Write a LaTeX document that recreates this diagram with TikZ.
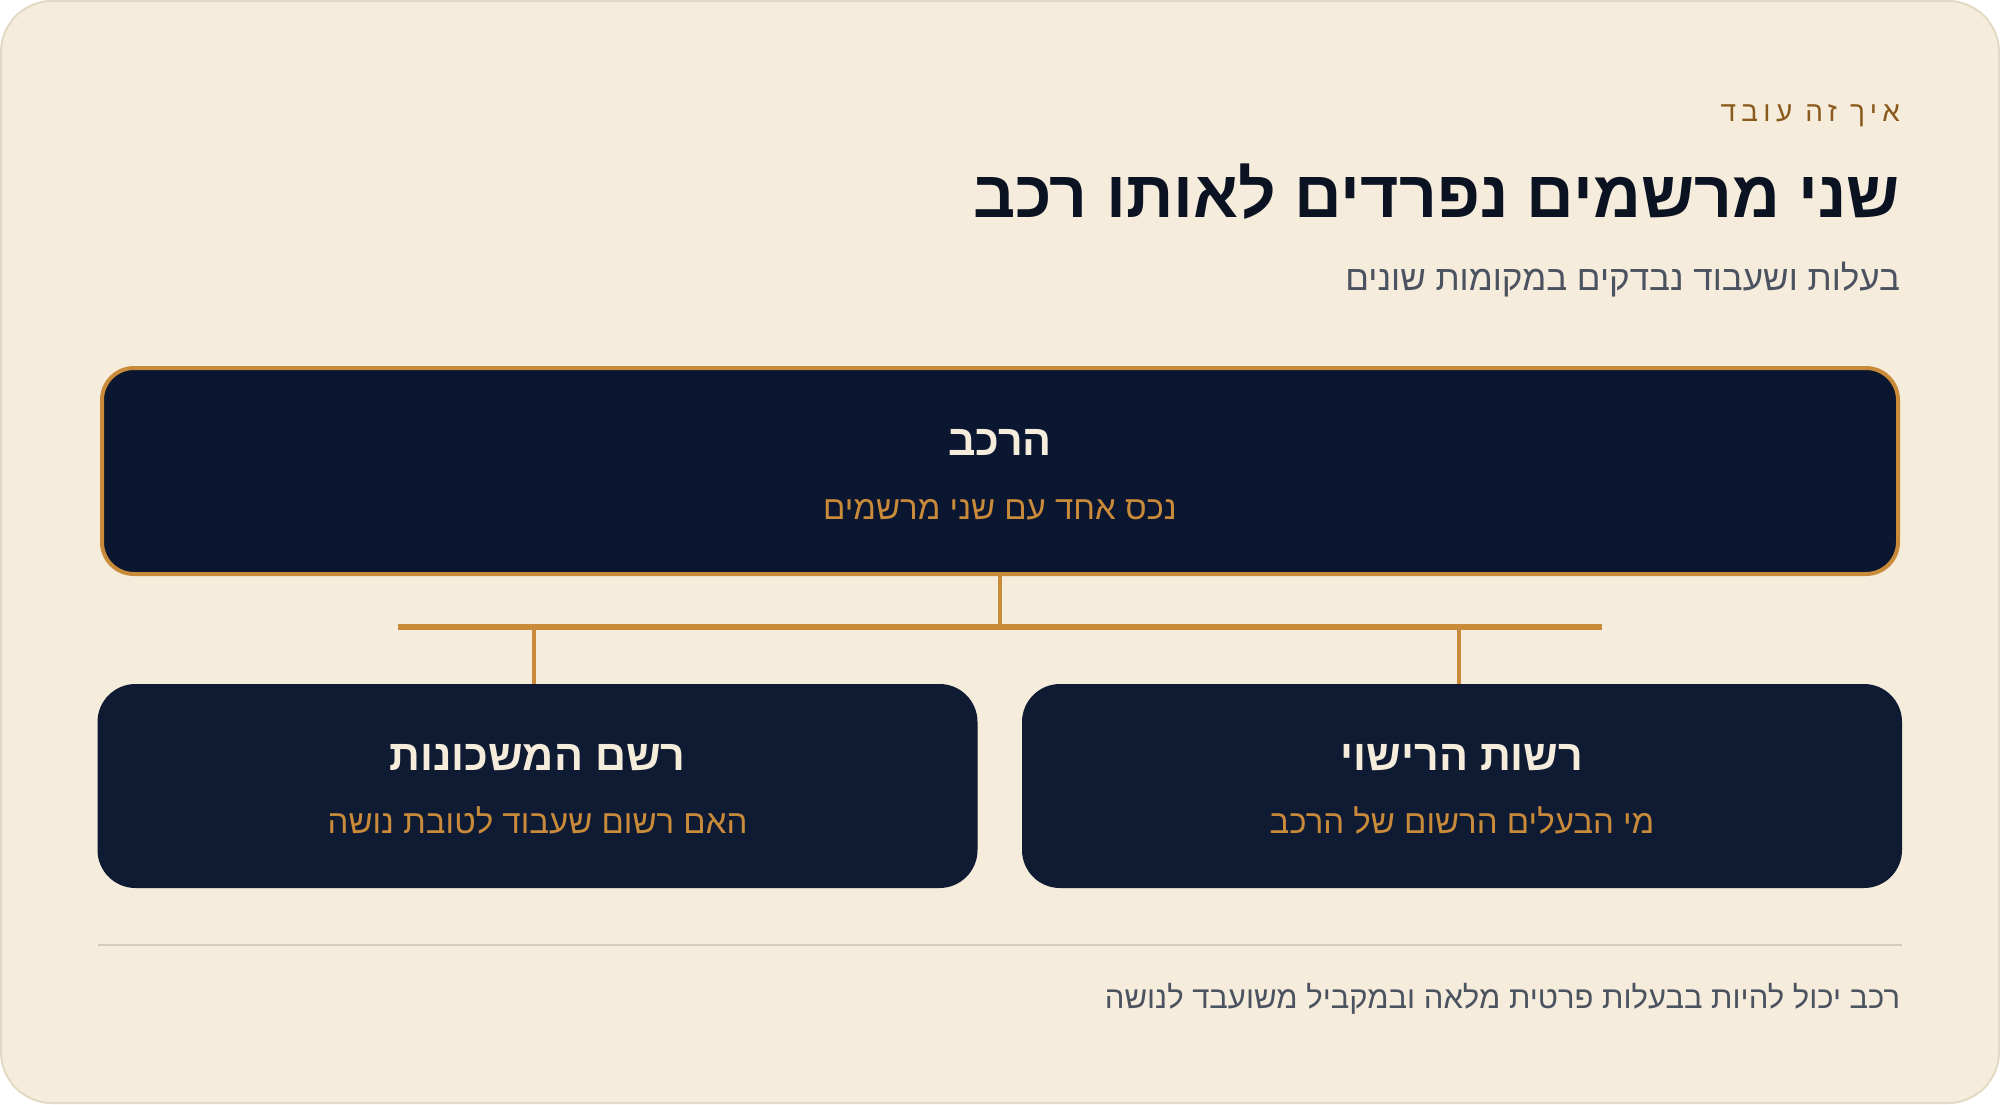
\documentclass[tikz,border=0pt]{standalone}
\usepackage{fontspec}
\setmainfont{Liberation Sans}
\newfontfamily\heb[Script=Hebrew]{Liberation Sans}
\TeXXeTstate=1
\definecolor{bgc}{HTML}{F5ECDC}
\definecolor{cardline}{HTML}{E4D9C6}
\definecolor{navytop}{HTML}{0B1631}
\definecolor{navybox}{HTML}{0F1B33}
\definecolor{gold}{HTML}{C98B3A}
\definecolor{brown}{HTML}{8A5A1C}
\definecolor{ink}{HTML}{0B1222}
\definecolor{grayt}{HTML}{4B5260}
\definecolor{cream}{HTML}{F5ECDC}
\definecolor{rule}{HTML}{D3CBBE}
\begin{document}
\begin{tikzpicture}[x=1pt,y=-1pt,
  txt/.style={inner sep=0pt,outer sep=0pt},
  topbox/.style={draw=gold,line width=4pt,fill=navytop,rounded corners=32pt,minimum width=1796pt,minimum height=206pt,inner sep=0pt},
  subbox/.style={fill=navybox,rounded corners=38pt,minimum width=880pt,minimum height=204pt,inner sep=0pt},
  boxtitle/.style={txt,anchor=base,text=cream,font=\heb\bfseries\fontsize{43}{48}\selectfont},
  boxsub/.style={txt,anchor=base,text=gold,font=\heb\fontsize{33}{38}\selectfont},
  bar/.style={draw=gold,line width=6pt},
  stem/.style={draw=gold,line width=4pt}
]
\useasboundingbox (0,0) rectangle (2000,1104);
\fill[white] (0,0) rectangle (2000,1104);
\draw[fill=bgc,draw=cardline,line width=2pt,rounded corners=51pt] (1,1) rectangle (1999,1103);

% header
\node[txt,anchor=base east,text=brown,font=\heb\fontsize{28}{34}\selectfont\addfontfeatures{LetterSpace=19}] (kicker) at (1900,121) {\beginR איך זה עובד\endR};
\node[txt,anchor=base east,text=ink,font=\heb\bfseries\fontsize{66}{72}\selectfont] (title) at (1900,217) {\beginR שני מרשמים נפרדים לאותו רכב\endR};
\node[txt,anchor=base east,text=grayt,font=\heb\fontsize{35}{40}\selectfont] (subtitle) at (1900,290) {\beginR בעלות ושעבוד נבדקים במקומות שונים\endR};

% top box
\node[topbox] (veh) at (1000,471) {};
\node[boxtitle] (vehT) at (1000,455) {\beginR הרכב\endR};
\node[boxsub] (vehS) at (1000,519) {\beginR נכס אחד עם שני מרשמים\endR};

% bottom boxes
\node[subbox] (pledge) at (537.5,786) {};
\node[boxtitle] (pledgeT) at (537.5,770) {\beginR רשם המשכונות\endR};
\node[boxsub] (pledgeS) at (537.5,833) {\beginR האם רשום שעבוד לטובת נושה\endR};

\node[subbox] (lic) at (1462,786) {};
\node[boxtitle] (licT) at (1462,770) {\beginR רשות הרישוי\endR};
\node[boxsub] (licS) at (1462,833) {\beginR מי הבעלים הרשום של הרכב\endR};

% connectors
\coordinate (barL) at (398,627);
\coordinate (barR) at (1602,627);
\coordinate (barM) at (veh.south |- barL);
\coordinate (barA) at (534,627);
\coordinate (barB) at (1459,627);
\draw[stem] (veh.south) -- (barM);
\draw[bar] (barL) -- (barR);
\draw[stem] (barA) -- (barA |- pledge.north);
\draw[stem] (barB) -- (barB |- lic.north);

% rule and footer
\coordinate (ruleL) at (98,945);
\coordinate (ruleR) at (1902,945);
\draw[rule,line width=2pt] (ruleL) -- (ruleR);
\node[txt,anchor=base east,text=grayt,font=\heb\fontsize{31}{36}\selectfont] (foot) at (1900,1008) {\beginR רכב יכול להיות בבעלות פרטית מלאה ובמקביל משועבד לנושה\endR};
\end{tikzpicture}
\end{document}
